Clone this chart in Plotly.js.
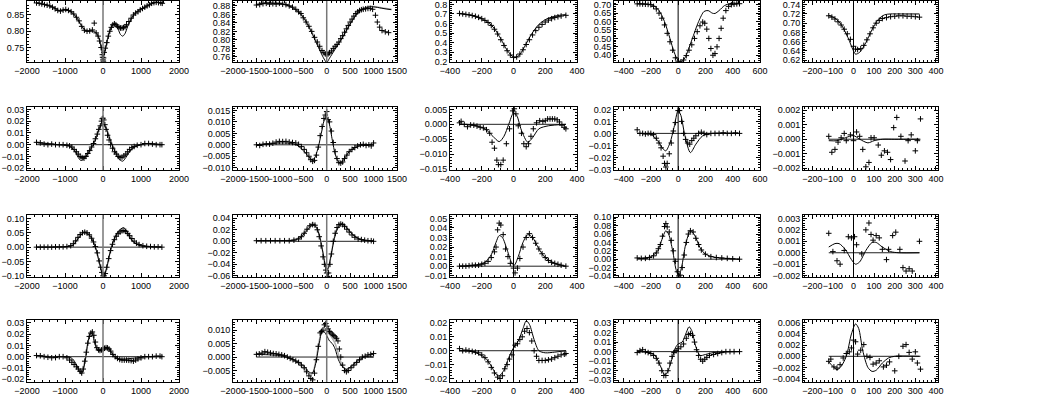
<!DOCTYPE html>
<html>
<head>
<meta charset="utf-8">
<script src="https://cdn.plot.ly/plotly-3.0.1.min.js"></script>
<style>
  html, body { margin: 0; padding: 0; background: #fff; }
  #chart { width: 1043px; height: 397px; }
</style>
</head>
<body>
<div id="chart"></div>
<script>
// ---- row 1 ----
const p11x = [-1750,-1680,-1610,-1540,-1470,-1400,-1330,-1260,-1190,-1120,-1050,-980,-910,-840,-770,-700,-630,-560,-490,-420,-350,-280,-230,-180,-130,-90,-50,-20,-10,0,10,15,30,60,100,140,180,220,260,300,340,380,420,460,500,540,580,620,680,740,800,860,920,980,1040,1100,1160,1220,1280,1340,1400,1460,1520,1560];
const p11y = [0.887,0.886,0.884,0.882,0.880,0.878,0.874,0.869,0.864,0.862,0.865,0.867,0.864,0.860,0.853,0.843,0.832,0.815,0.803,0.800,0.801,0.804,0.825,0.795,0.785,0.770,0.750,0.728,0.720,0.712,0.708,0.718,0.735,0.748,0.765,0.785,0.800,0.812,0.820,0.823,0.820,0.815,0.812,0.810,0.810,0.811,0.814,0.820,0.830,0.840,0.850,0.856,0.860,0.866,0.870,0.874,0.878,0.881,0.886,0.888,0.889,0.888,0.887,0.886];
const f11x = [-1750,-1500,-1300,-1150,-1000,-850,-700,-560,-450,-350,-250,-150,-80,-30,0,20,60,120,200,280,330,400,460,520,580,650,750,850,1000,1150,1300,1450,1560];
const f11y = [0.887,0.881,0.873,0.863,0.866,0.860,0.843,0.815,0.801,0.801,0.800,0.790,0.768,0.742,0.727,0.726,0.742,0.775,0.808,0.822,0.821,0.806,0.790,0.785,0.793,0.815,0.840,0.856,0.868,0.877,0.886,0.889,0.887];
const g11y = [0.888,0.882,0.874,0.864,0.867,0.861,0.844,0.817,0.802,0.801,0.801,0.792,0.771,0.742,0.722,0.722,0.742,0.776,0.808,0.821,0.822,0.815,0.811,0.810,0.812,0.818,0.838,0.855,0.868,0.877,0.886,0.889,0.887];

const p12x = [-1500,-1430,-1360,-1290,-1220,-1150,-1080,-1010,-940,-870,-800,-730,-660,-600,-550,-500,-440,-380,-320,-260,-200,-150,-100,-60,-30,0,30,60,100,140,180,220,260,300,340,380,420,460,500,540,580,620,660,700,740,780,830,880,930,980,1040,1080,1130,1180,1250,1320];
const p12y = [0.882,0.883,0.885,0.886,0.884,0.885,0.884,0.886,0.884,0.883,0.880,0.877,0.872,0.866,0.862,0.852,0.842,0.832,0.820,0.806,0.795,0.785,0.775,0.770,0.767,0.765,0.767,0.770,0.774,0.780,0.785,0.789,0.795,0.803,0.810,0.818,0.826,0.834,0.842,0.849,0.856,0.862,0.866,0.869,0.871,0.872,0.873,0.874,0.874,0.872,0.858,0.842,0.830,0.822,0.819,0.817];
const f12x = [-1500,-1300,-1100,-900,-750,-600,-480,-360,-250,-150,-70,0,60,150,250,350,450,550,650,750,850,950,1050,1200,1380];
const f12y = [0.883,0.887,0.886,0.883,0.877,0.866,0.850,0.826,0.800,0.776,0.758,0.747,0.757,0.773,0.790,0.808,0.828,0.846,0.862,0.872,0.876,0.878,0.877,0.874,0.871];
const g12y = [0.885,0.888,0.888,0.885,0.878,0.866,0.851,0.828,0.804,0.783,0.769,0.765,0.767,0.777,0.792,0.808,0.827,0.846,0.862,0.872,0.877,0.879,0.878,0.875,0.872];

const p13x = [-340,-320,-300,-280,-260,-240,-220,-200,-180,-160,-140,-120,-100,-80,-60,-40,-20,0,20,40,60,80,100,120,140,160,180,200,220,240,260,280,300,330];
const p13y = [0.705,0.700,0.695,0.690,0.683,0.675,0.664,0.650,0.632,0.610,0.580,0.540,0.490,0.430,0.370,0.315,0.270,0.245,0.250,0.280,0.325,0.380,0.430,0.480,0.525,0.560,0.590,0.615,0.635,0.650,0.662,0.670,0.678,0.685];
const f13x = [-340,-280,-220,-160,-120,-80,-40,0,10,40,80,120,160,200,250,300,330];
const f13y = [0.705,0.690,0.664,0.612,0.545,0.440,0.320,0.245,0.242,0.275,0.390,0.505,0.590,0.640,0.672,0.688,0.692];

const p14x = [-300,-280,-260,-240,-220,-200,-180,-160,-140,-120,-100,-80,-60,-40,-20,0,20,40,60,80,100,120,140,160,180,195,210,225,240,255,270,285,300,315,330,350,370,390,410,430,450];
const p14y = [0.705,0.705,0.704,0.703,0.702,0.700,0.690,0.675,0.650,0.620,0.580,0.530,0.480,0.430,0.385,0.365,0.360,0.372,0.398,0.430,0.462,0.500,0.540,0.575,0.597,0.590,0.555,0.500,0.440,0.400,0.410,0.450,0.500,0.560,0.620,0.665,0.690,0.700,0.703,0.705,0.706];
const f14x = [-300,-220,-180,-140,-100,-60,-30,0,20,50,100,150,190,220,250,270,300,340,380,450];
const f14y = [0.706,0.703,0.695,0.665,0.600,0.500,0.420,0.368,0.360,0.385,0.490,0.600,0.660,0.665,0.650,0.648,0.665,0.695,0.707,0.709];

const p15x = [-120,-105,-90,-75,-60,-45,-30,-15,0,10,20,35,50,65,80,95,110,125,140,160,180,200,220,240,260,280,300,320];
const p15y = [0.716,0.713,0.709,0.703,0.696,0.687,0.677,0.665,0.650,0.644,0.643,0.645,0.652,0.664,0.677,0.690,0.700,0.706,0.710,0.712,0.714,0.715,0.716,0.716,0.715,0.715,0.714,0.713];
const f15x = [-120,-90,-60,-30,0,10,30,60,90,120,150,180,220,320];
const f15y = [0.717,0.711,0.697,0.672,0.640,0.633,0.637,0.658,0.686,0.708,0.718,0.720,0.720,0.720];

// ---- row 2 ----
const p21x = [-1750,-1650,-1550,-1450,-1350,-1250,-1150,-1050,-950,-880,-820,-760,-700,-650,-600,-550,-500,-450,-400,-350,-300,-250,-200,-150,-110,-70,-40,-20,0,20,50,80,120,160,200,250,300,350,400,450,500,550,600,650,700,760,820,900,1000,1100,1200,1300,1400,1500,1550];
const p21y = [0.002,0.0015,0.0005,0.000,0.0005,0.000,0.000,0.000,-0.0005,-0.001,-0.002,-0.004,-0.006,-0.008,-0.010,-0.011,-0.0115,-0.010,-0.0075,-0.005,-0.002,0.001,0.005,0.009,0.013,0.016,0.020,0.022,0.0225,0.021,0.017,0.013,0.008,0.004,0.000,-0.003,-0.006,-0.008,-0.010,-0.011,-0.0105,-0.0095,-0.008,-0.006,-0.004,-0.0025,-0.0015,-0.0005,0.000,0.001,0.001,0.0005,0.000,0.000,0.000];
const f21x = [-1750,-1200,-900,-750,-650,-580,-500,-350,-200,-80,0,80,200,350,450,520,600,750,900,1200,1550];
const f21y = [0.002,0.000,-0.001,-0.005,-0.011,-0.0135,-0.012,-0.005,0.004,0.015,0.018,0.014,0.003,-0.008,-0.013,-0.014,-0.011,-0.004,-0.001,0.001,0.000];
const g21y = [0.002,0.000,-0.001,-0.004,-0.009,-0.0112,-0.0105,-0.004,0.005,0.016,0.019,0.015,0.004,-0.006,-0.0100,-0.011,-0.009,-0.004,-0.001,0.001,0.000];

const p22x = [-1500,-1430,-1360,-1290,-1220,-1150,-1080,-1010,-940,-870,-800,-730,-660,-600,-540,-480,-430,-380,-340,-300,-260,-220,-180,-140,-100,-60,-30,0,30,60,100,140,180,220,260,300,340,380,430,480,540,600,660,720,780,840,900,950,1000];
const p22y = [0.000,-0.0003,0.0002,0.0004,0.0003,0.0007,0.0012,0.0015,0.0014,0.0015,0.0012,0.0010,0.0008,0.0002,-0.0008,-0.002,-0.0035,-0.005,-0.0065,-0.0072,-0.0068,-0.0045,-0.001,0.004,0.008,0.0115,0.013,0.0145,0.011,0.010,0.006,0.001,-0.003,-0.006,-0.0078,-0.008,-0.0075,-0.006,-0.0045,-0.003,-0.002,-0.0012,-0.0005,0.000,0.0002,-0.0003,0.0000,-0.0005,0.0008];
const f22x = [-1500,-1200,-900,-650,-500,-400,-320,-260,-180,-100,-40,0,50,120,180,250,300,380,480,650,850,1000];
const f22y = [0.000,0.0005,0.0008,0.000,-0.0025,-0.0048,-0.0065,-0.0058,-0.001,0.0065,0.0115,0.012,0.0095,0.002,-0.004,-0.0075,-0.0078,-0.006,-0.003,-0.0008,0.000,0.000];

const p23x = [-340,-330,-310,-290,-270,-250,-230,-210,-190,-170,-150,-135,-120,-105,-95,-80,-65,-45,-25,-5,5,15,30,50,65,80,95,110,125,145,165,185,200,215,230,245,260,275,290,305,320,330];
const p23y = [0.0005,0.001,0.000,-0.0008,-0.0002,-0.0003,-0.0006,-0.001,-0.0012,-0.0018,-0.003,-0.006,-0.008,-0.012,-0.0135,-0.0135,-0.012,-0.0065,-0.0015,0.0045,0.0052,0.0035,-0.0005,-0.003,-0.0065,-0.0075,-0.0065,-0.004,-0.0015,0.0005,0.0012,0.001,0.0012,0.0018,0.0018,0.0018,0.0018,0.0015,0.0008,-0.0003,-0.001,-0.0015];
const f23x = [-340,-250,-180,-130,-90,-60,-30,0,20,50,90,120,160,220,330];
const f23y = [0.000,-0.0003,-0.0015,-0.004,-0.0058,-0.004,0.000,0.0038,0.003,-0.002,-0.006,-0.0045,-0.0015,-0.0005,0.000];

const p24x = [-300,-280,-260,-240,-220,-200,-180,-160,-140,-125,-110,-100,-90,-80,-65,-50,-35,-20,0,10,25,40,55,70,85,100,115,130,150,170,190,210,240,270,300,330,360,390,420,450];
const p24y = [0.003,0.000,0.000,-0.0005,0.000,0.000,-0.001,-0.004,-0.008,-0.012,-0.019,-0.025,-0.028,-0.025,-0.017,-0.008,0.002,0.009,0.019,0.019,0.010,0.000,-0.005,-0.008,-0.009,-0.006,-0.004,-0.002,0.000,0.001,0.000,-0.001,0.000,0.000,0.000,0.0005,0.000,0.000,0.0005,0.000];
const f24x = [-300,-200,-150,-110,-90,-60,-30,0,20,50,90,130,180,250,450];
const f24y = [0.000,-0.001,-0.006,-0.013,-0.0145,-0.008,0.005,0.019,0.015,-0.002,-0.016,-0.009,-0.002,0.000,0.000];

const p25x = [-120,-105,-90,-75,-60,-45,-35,-15,0,15,30,45,60,75,85,100,120,135,150,165,180,195,210,230,250,265,280,300,310,325];
const p25y = [0.0002,-0.0009,-0.0007,-0.0002,0.0001,0.0004,-0.0001,0.0003,-0.0001,0.0005,0.0002,-0.0007,-0.0019,-0.0016,0.0001,0.0001,-0.0004,-0.0011,-0.0008,-0.0009,-0.0014,0.0008,0.0015,0.0002,-0.0015,-0.0001,0.0003,-0.0008,-0.0001,0.0014];
const f25x = [-120,-80,-40,0,30,70,100,140,200,320];
const f25y = [-0.0001,-0.0001,0.0001,0.00025,0.0000,-0.00025,-0.0001,0.0000,0.0000,0.0000];

// ---- row 3 ----
const p31x = [-1750,-1650,-1550,-1450,-1350,-1250,-1150,-1050,-950,-850,-780,-720,-660,-600,-540,-480,-420,-360,-300,-250,-200,-150,-100,-60,-30,0,30,60,100,150,200,250,300,350,400,450,500,550,600,650,700,760,820,880,950,1050,1150,1250,1350,1450,1550];
const p31y = [0.000,0.000,0.000,0.000,0.000,0.001,0.001,0.001,0.002,0.005,0.012,0.022,0.034,0.044,0.050,0.052,0.050,0.043,0.031,0.018,0.002,-0.020,-0.048,-0.070,-0.088,-0.100,-0.100,-0.092,-0.070,-0.040,-0.012,0.010,0.026,0.038,0.047,0.053,0.057,0.058,0.055,0.048,0.040,0.030,0.021,0.014,0.009,0.005,0.003,0.002,0.001,0.001,0.000];
const f31x = [-1750,-1000,-800,-650,-500,-350,-200,-100,0,30,100,200,300,400,540,650,800,1000,1550];
const f31y = [0.000,0.001,0.006,0.030,0.051,0.040,0.000,-0.052,-0.100,-0.100,-0.070,-0.010,0.030,0.055,0.068,0.050,0.018,0.004,0.000];
const g31y = [0.000,0.001,0.008,0.035,0.055,0.042,0.002,-0.050,-0.098,-0.100,-0.070,-0.012,0.028,0.050,0.057,0.042,0.018,0.005,0.000];

const p32x = [-1500,-1400,-1300,-1200,-1100,-1000,-900,-800,-700,-600,-540,-480,-420,-360,-300,-250,-200,-160,-120,-80,-50,-20,0,20,40,70,100,140,180,220,260,300,340,380,430,480,540,600,670,740,810,880,950,1000];
const p32y = [0.001,0.001,0.001,0.001,0.001,0.001,0.001,0.001,0.002,0.004,0.008,0.014,0.021,0.027,0.029,0.028,0.020,0.008,-0.008,-0.027,-0.040,-0.050,-0.055,-0.061,-0.055,-0.040,-0.022,0.000,0.014,0.024,0.029,0.030,0.029,0.026,0.021,0.016,0.011,0.007,0.004,0.003,0.002,0.001,0.001,0.000];
const f32x = [-1500,-900,-700,-550,-420,-300,-220,-150,-80,-20,20,80,150,220,320,420,550,700,850,1000];
const f32y = [0.001,0.001,0.002,0.007,0.019,0.028,0.024,0.008,-0.020,-0.044,-0.048,-0.030,0.000,0.020,0.030,0.024,0.012,0.004,0.001,0.000];
const g32y = [0.001,0.001,0.003,0.009,0.022,0.032,0.026,0.009,-0.020,-0.045,-0.050,-0.030,0.002,0.022,0.031,0.025,0.012,0.004,0.001,0.000];

const p33x = [-340,-320,-300,-280,-260,-240,-220,-200,-180,-160,-140,-120,-110,-100,-90,-80,-65,-50,-35,-20,0,10,25,40,60,80,100,120,140,160,180,200,220,240,260,280,300,330];
const p33y = [0.000,0.000,0.000,0.0005,0.001,0.001,0.001,0.002,0.003,0.005,0.009,0.015,0.020,0.038,0.045,0.043,0.033,0.018,0.010,0.003,-0.002,-0.007,-0.002,0.008,0.020,0.030,0.034,0.030,0.024,0.018,0.013,0.009,0.006,0.004,0.003,0.002,0.001,0.000];
const f33x = [-340,-250,-180,-140,-110,-90,-70,-40,-10,5,30,60,90,120,160,200,260,330];
const f33y = [0.000,0.001,0.004,0.012,0.025,0.032,0.030,0.017,0.003,0.001,0.010,0.025,0.033,0.030,0.018,0.009,0.003,0.000];

const p34x = [-300,-270,-240,-210,-180,-160,-145,-130,-115,-100,-90,-80,-65,-50,-35,-20,-5,5,15,30,45,60,75,90,110,130,150,170,200,240,280,320,360,400,450];
const p34y = [0.003,0.002,0.002,0.004,0.008,0.015,0.025,0.035,0.055,0.078,0.085,0.077,0.065,0.045,0.020,-0.005,-0.030,-0.040,-0.038,-0.020,0.010,0.040,0.060,0.068,0.065,0.050,0.035,0.022,0.012,0.006,0.004,0.003,0.002,0.001,0.000];
const f34x = [-300,-200,-150,-110,-90,-70,-40,-15,5,25,55,90,120,160,200,280,450];
const f34y = [0.002,0.006,0.020,0.055,0.068,0.060,0.020,-0.025,-0.040,-0.020,0.035,0.068,0.058,0.028,0.012,0.004,0.000];

const p35x = [-120,-100,-80,-65,-45,-25,-10,5,15,40,60,75,85,95,110,125,140,160,170,190,205,225,240,255,270,285,320];
const p35y = [0.0017,0.0001,-0.0007,-0.001,0.0002,0.0014,0.0013,0.0014,0.0007,-0.0001,0.002,0.0026,0.0016,0.0011,0.0015,0.0013,0.0003,-0.0006,0.0003,0.0015,0.0018,0.0003,-0.0013,-0.0016,-0.0014,-0.0016,0.001];
const f35x = [-120,-90,-70,-40,-10,10,30,60,90,110,140,180,220,320];
const f35y = [0.0005,0.0008,0.0008,0.0003,-0.0006,-0.001,-0.0008,0.0002,0.0009,0.0009,0.0005,0.0001,0.0000,0.0000];

// ---- row 4 ----
const p41x = [-1750,-1650,-1550,-1450,-1350,-1250,-1150,-1050,-950,-880,-820,-760,-700,-650,-600,-560,-520,-480,-440,-400,-360,-320,-280,-240,-200,-160,-120,-80,-40,0,40,80,120,160,200,260,320,380,440,500,560,620,680,740,800,860,920,1000,1100,1200,1300,1400,1500,1550];
const p41y = [0.001,0.0008,0.000,-0.0005,-0.001,-0.0008,0.000,0.000,-0.001,-0.003,-0.005,-0.007,-0.009,-0.011,-0.013,-0.0145,-0.011,-0.004,0.004,0.012,0.018,0.021,0.022,0.019,0.013,0.008,0.006,0.0055,0.006,0.0065,0.0075,0.008,0.0078,0.0068,0.005,0.002,0.000,-0.0015,-0.0025,-0.003,-0.003,-0.003,-0.0032,-0.0035,-0.004,-0.003,-0.002,-0.001,0.000,0.000,0.000,0.0005,0.0005,0.000];
const f41x = [-1750,-1400,-1100,-900,-800,-700,-620,-570,-520,-460,-400,-330,-280,-220,-150,-80,0,60,120,200,300,450,600,750,900,1100,1300,1550];
const f41y = [0.001,0.000,0.000,0.000,-0.002,-0.007,-0.013,-0.0155,-0.012,-0.002,0.012,0.021,0.020,0.012,0.006,0.005,0.006,0.008,0.008,0.005,0.000,-0.002,-0.002,-0.0015,-0.001,0.000,0.000,0.000];
const g41y = [0.001,0.000,0.000,-0.001,-0.004,-0.008,-0.012,-0.013,-0.009,-0.001,0.012,0.021,0.022,0.014,0.007,0.006,0.007,0.0085,0.008,0.005,0.000,-0.003,-0.0035,-0.0035,-0.0035,-0.001,0.000,0.000];

const p42x = [-1500,-1440,-1380,-1320,-1260,-1200,-1140,-1080,-1020,-960,-900,-840,-780,-720,-660,-600,-540,-480,-430,-380,-340,-300,-260,-220,-180,-140,-110,-80,-50,-20,0,30,60,90,120,150,180,210,240,270,300,340,380,420,460,520,580,640,700,760,820,880,940,1000];
const p42y = [0.001,0.0012,0.0015,0.002,0.0018,0.0015,0.0013,0.0012,0.001,0.0008,0.0005,0.000,-0.0005,-0.001,-0.0015,-0.002,-0.003,-0.004,-0.0055,-0.007,-0.008,-0.0085,-0.006,-0.001,0.004,0.009,0.0095,0.010,0.012,0.0125,0.0115,0.0105,0.0095,0.009,0.0085,0.008,0.0075,0.007,0.006,0.003,0.000,-0.003,-0.005,-0.0055,-0.005,-0.004,-0.003,-0.002,-0.001,0.000,0.0003,0.0008,0.001,0.0013];
const f42x = [-1500,-1200,-1000,-800,-600,-450,-370,-300,-230,-160,-100,-60,0,60,120,180,250,330,420,520,650,800,1000];
const f42y = [0.001,0.0008,0.0005,-0.0003,-0.002,-0.004,-0.0058,-0.0058,-0.002,0.005,0.0095,0.0095,0.008,0.006,0.005,0.003,-0.001,-0.0035,-0.0045,-0.0035,-0.0015,0.000,0.000];
const g42y = [0.0012,0.0015,0.0008,-0.0003,-0.0025,-0.005,-0.0065,-0.006,-0.001,0.006,0.0105,0.011,0.0095,0.0085,0.007,0.005,0.001,-0.003,-0.0048,-0.004,-0.002,0.000,0.001];

const p43x = [-340,-320,-300,-280,-260,-240,-220,-200,-180,-160,-140,-120,-100,-85,-70,-55,-40,-25,-10,10,25,40,55,70,85,100,115,130,145,160,180,200,220,240,260,280,300,320,330];
const p43y = [0.0015,0.000,0.0005,0.000,-0.0005,-0.001,-0.0015,-0.003,-0.005,-0.008,-0.012,-0.016,-0.019,-0.020,-0.018,-0.013,-0.010,-0.006,-0.003,0.004,0.005,0.008,0.010,0.014,0.016,0.013,0.007,0.000,-0.004,-0.007,-0.007,-0.007,-0.0065,-0.006,-0.005,-0.004,-0.003,-0.0025,-0.002];
const f43x = [-340,-250,-180,-140,-110,-90,-60,-30,0,30,60,80,100,130,160,200,260,330];
const f43y = [0.000,-0.001,-0.005,-0.011,-0.017,-0.018,-0.014,-0.005,0.002,0.007,0.016,0.0215,0.019,0.008,0.000,-0.0015,-0.001,0.000];

const p44x = [-300,-280,-260,-240,-220,-200,-180,-160,-140,-120,-105,-90,-75,-60,-45,-30,-15,0,20,40,60,75,90,105,120,135,150,165,180,195,210,230,260,290,320,350,380,410,450];
const p44y = [-0.001,0.001,0.002,0.000,-0.001,-0.002,-0.004,-0.007,-0.012,-0.020,-0.025,-0.025,-0.020,-0.012,-0.005,-0.001,0.001,0.003,0.005,0.008,0.014,0.018,0.019,0.017,0.010,0.002,-0.004,-0.008,-0.010,-0.008,-0.006,-0.004,-0.003,-0.002,-0.001,0.000,0.000,0.000,0.000];
const f44x = [-300,-220,-170,-130,-100,-80,-50,-20,0,30,60,80,100,130,160,200,260,450];
const f44y = [0.000,-0.001,-0.004,-0.015,-0.024,-0.022,-0.010,0.004,0.008,0.010,0.020,0.026,0.022,0.005,-0.004,-0.003,-0.001,0.000];

const p45x = [-120,-110,-95,-80,-65,-50,-35,-20,-10,0,10,20,35,50,65,80,95,110,125,145,160,175,200,220,240,255,270,285,300,310,325];
const p45y = [-0.0009,-0.0005,-0.0019,-0.0021,-0.0015,-0.0003,0.0005,0.0008,0.0015,0.0029,0.0026,0.0004,0.0011,0.0021,0.0000,-0.0002,-0.0014,-0.0012,-0.0008,-0.0019,-0.0016,-0.0010,-0.0026,0.000,0.0018,0.0021,0.0007,-0.0005,0.0008,-0.0012,-0.0023];
const f45x = [-120,-100,-80,-60,-35,-10,10,25,45,70,90,110,140,170,200,320];
const f45y = [-0.001,-0.0018,-0.0024,-0.0018,0.000,0.004,0.0058,0.005,0.001,-0.002,-0.0027,-0.0025,-0.0012,-0.0003,0.000,0.000];

// axis ranges and ticks
const xRanges = [[-2000,2000],[-2000,1500],[-400,400],[-470,600],[-245,410]];
const xDticks = [1000,500,200,200,100];
const yRanges = [
  [0.7055,0.893],[0.748,0.8915],[0.197,0.835],[0.36,0.722],[0.616,0.748],
  [-0.0215,0.032],[-0.011,0.0165],[-0.0153,0.0058],[-0.0305,0.022],[-0.00212,0.00222],
  [-0.104,0.112],[-0.062,0.0457],[-0.0113,0.0535],[-0.0425,0.1055],[-0.00212,0.0033],
  [-0.0225,0.0326],[-0.0093,0.0138],[-0.0225,0.0221],[-0.0318,0.0331],[-0.0046,0.0065]
];
const yDticks = [0.05,0.02,0.1,0.05,0.02, 0.01,0.005,0.005,0.01,0.001, 0.05,0.02,0.01,0.02,0.001, 0.01,0.005,0.01,0.01,0.002];
const yFormats = [".2f",".2f",".1f",".2f",".2f", ".2f",".3f",".3f",".2f",".3f", ".2f",".2f",".2f",".2f",".3f", ".2f",".3f",".2f",".2f",".3f"];

// panel frames in pixels
const W = 1043, H = 397;
const colL = [27, 233, 450, 614, 803];
const colR = [179, 397, 577, 760, 938];
const rowT = [1, 107, 215, 320];
const rowB = [62, 170, 277, 382];

const panels = [
  [p11x,p11y,f11x,f11y,g11y], [p12x,p12y,f12x,f12y,g12y], [p13x,p13y,f13x,f13y,null], [p14x,p14y,f14x,f14y,null], [p15x,p15y,f15x,f15y,null],
  [p21x,p21y,f21x,f21y,g21y], [p22x,p22y,f22x,f22y,null], [p23x,p23y,f23x,f23y,null], [p24x,p24y,f24x,f24y,null], [p25x,p25y,f25x,f25y,null],
  [p31x,p31y,f31x,f31y,g31y], [p32x,p32y,f32x,f32y,g32y], [p33x,p33y,f33x,f33y,null], [p34x,p34y,f34x,f34y,null], [p35x,p35y,f35x,f35y,null],
  [p41x,p41y,f41x,f41y,g41y], [p42x,p42y,f42x,f42y,g42y], [p43x,p43y,f43x,f43y,null], [p44x,p44y,f44x,f44y,null], [p45x,p45y,f45x,f45y,null]
];

function axisBase(dtick, fmt) {
  return {
    dtick: dtick, tick0: 0, tickformat: fmt, tickmode: "linear",
    ticks: "inside", ticklen: 4, tickwidth: 1, tickcolor: "#000",
    mirror: "ticks", showline: true, linecolor: "#000", linewidth: 1,
    showgrid: false, zeroline: false, tickangle: 0, automargin: false,
    ticklabeloverflow: "allow",
    tickfont: { size: 9, color: "#000" },
    minor: { ticks: "inside", ticklen: 2, dtick: dtick / 5, tickcolor: "#000", showgrid: false },
  };
}

const traces = [];
const shapes = [];
const layout = {
  width: W, height: H,
  margin: { l: 0, r: 0, t: 0, b: 0 },
  paper_bgcolor: "#fff", plot_bgcolor: "#fff",
  showlegend: false,
  font: { family: "Liberation Sans, Arial, sans-serif", size: 9, color: "#000" },
};

panels.forEach((p, i) => {
  const r = Math.floor(i / 5), c = i % 5, n = i + 1;
  const xa = "x" + n, ya = "y" + n;
  const xs = "xaxis" + (n === 1 ? "" : n), ys = "yaxis" + (n === 1 ? "" : n);

  layout[xs] = Object.assign(axisBase(xDticks[c], "d"), {
    domain: [colL[c] / W, colR[c] / W], range: xRanges[c], anchor: ya,
  });
  layout[ys] = Object.assign(axisBase(yDticks[i], yFormats[i]), {
    domain: [1 - rowB[r] / H, 1 - rowT[r] / H], range: yRanges[i], anchor: xa,
  });

  const [px, py, fx, fy, gy] = p;

  // zero line over the data span (not in the intensity row)
  if (r > 0) {
    traces.push({
      x: [Math.min(...px), Math.max(...px)], y: [0, 0], xaxis: xa, yaxis: ya,
      mode: "lines", line: { color: "#222", width: 1 }, hoverinfo: "skip",
    });
  }
  // vertical line at x = 0
  shapes.push({
    type: "line", xref: xa, yref: ya + " domain", x0: 0, x1: 0, y0: 0, y1: 1,
    line: { color: c < 2 ? "#777" : "#000", width: c < 2 ? 1.5 : 1 },
  });

  if (gy) {
    traces.push({
      x: fx, y: gy, xaxis: xa, yaxis: ya, mode: "lines",
      line: { color: "#b0b0b0", width: 1.5, shape: "spline", smoothing: 0.8 },
    });
  }
  traces.push({
    x: fx, y: fy, xaxis: xa, yaxis: ya, mode: "lines",
    line: { color: "#000", width: 1, shape: "spline", smoothing: 0.8 },
  });
  traces.push({
    x: px, y: py, xaxis: xa, yaxis: ya, mode: "markers",
    marker: { symbol: "cross-thin", size: 4, color: "#000", line: { color: "#000", width: 1 } },
  });
});

layout.shapes = shapes;

Plotly.newPlot("chart", traces, layout, { staticPlot: true, displayModeBar: false });
</script>
</body>
</html>
